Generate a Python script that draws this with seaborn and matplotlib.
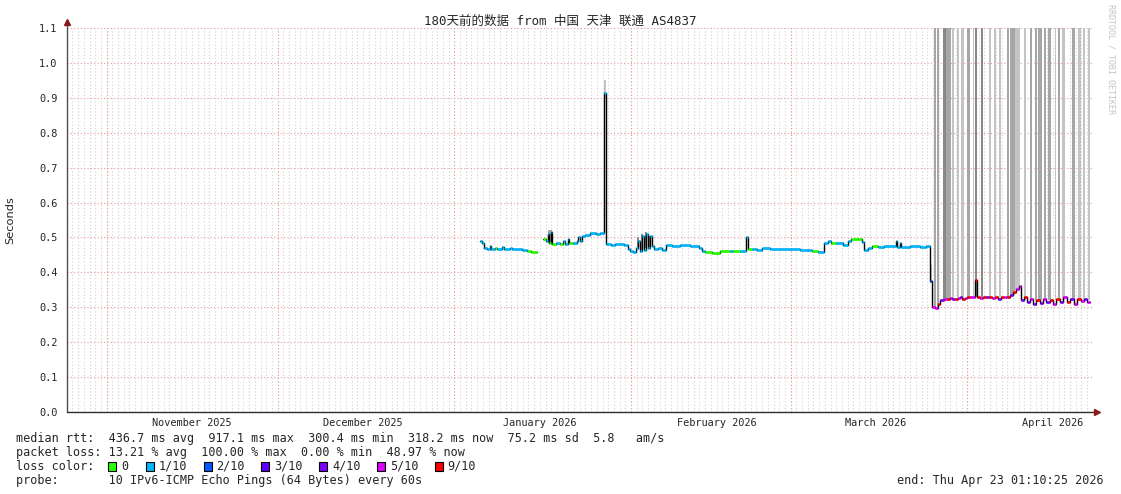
import numpy as np
import pandas as pd
import matplotlib
matplotlib.use('Agg')
import matplotlib.pyplot as plt
import matplotlib.dates as mdates
from matplotlib.patches import Rectangle
from matplotlib.ticker import MultipleLocator, FormatStrFormatter
import seaborn as sns

# graph window: 180 days up to the end time
end_time = pd.Timestamp('2026-04-23 01:10:25')
start_time = end_time - pd.Timedelta(days=180)

# median rtt: days after start_time, seconds, lost pings out of 10 (nan = no data after this)
day = [72.46, 72.81, 73.16, 73.68, 74.21, 74.39, 75.09, 75.44, 76.32, 76.67,
       77.72, 78.07, 79.12, 79.82, 80.70, 81.40, 82.46, 83.51, 84.04, 84.39,
       84.56, 84.91, 85.09, 85.79, 86.49, 87.02, 87.37, 87.89, 88.07, 88.77,
       89.47, 89.65, 90.00, 90.35, 90.88, 91.75, 92.81, 93.51, 94.21, 94.56,
       95.44, 96.14, 97.02, 97.72, 98.42, 98.77, 99.30, 99.82, 100.18, 100.53,
       100.88, 101.23, 101.58, 101.93, 102.28, 102.63, 102.98, 103.68, 104.39, 105.09,
       106.14, 107.54, 109.30, 110.88, 111.40, 111.93, 113.16, 114.56, 116.32, 116.84,
       118.07, 119.12, 119.47, 120.18, 121.05, 121.93, 123.33, 125.09, 126.84, 128.60,
       130.00, 130.70, 131.75, 132.81, 133.51, 134.04, 134.91, 136.14, 137.02, 137.54,
       138.77, 139.47, 139.82, 140.53, 141.23, 142.28, 143.33, 145.44, 145.61, 146.14,
       146.32, 147.89, 149.65, 150.70, 151.40, 151.75, 152.28, 152.81, 153.16, 153.86,
       154.38, 154.91, 155.35, 155.79, 156.23, 156.67, 157.10, 157.54, 157.98, 158.42,
       159.30, 159.65, 160.18, 160.70, 161.23, 161.75, 162.28, 162.81, 163.33, 163.86,
       164.39, 164.91, 165.44, 165.96, 166.49, 167.02, 167.37, 167.89, 168.42, 168.95,
       169.47, 170.00, 170.70, 171.23, 171.75, 172.46, 172.98, 173.51, 174.21, 174.74,
       175.44, 175.96, 176.67, 177.19, 177.89, 178.42, 178.95, 179.47]
median = [0.490, 0.485, 0.470, 0.468, 0.475, 0.467, 0.470, 0.467, 0.472, 0.466,
          0.470, 0.466, 0.468, 0.465, 0.460, 0.458, np.nan, 0.495, 0.490, 0.510,
          0.485, 0.515, 0.480, 0.485, 0.480, 0.490, 0.480, 0.495, 0.483, 0.485,
          0.490, 0.500, 0.490, 0.505, 0.508, 0.512, 0.510, 0.513, 0.915, 0.480,
          0.478, 0.480, 0.482, 0.478, 0.468, 0.462, 0.458, 0.470, 0.490, 0.462,
          0.505, 0.465, 0.510, 0.470, 0.505, 0.475, 0.468, 0.470, 0.465, 0.478,
          0.476, 0.478, 0.476, 0.470, 0.462, 0.458, 0.456, 0.460, 0.460, 0.460,
          0.462, 0.500, 0.466, 0.467, 0.465, 0.470, 0.467, 0.466, 0.468, 0.465,
          0.463, 0.460, 0.458, 0.483, 0.490, 0.483, 0.485, 0.478, 0.490, 0.495,
          0.495, 0.488, 0.465, 0.470, 0.475, 0.474, 0.476, 0.490, 0.474, 0.485,
          0.474, 0.476, 0.474, 0.476, 0.375, 0.300, 0.298, 0.310, 0.322, 0.325,
          0.323, 0.326, 0.324, 0.325, 0.327, 0.328, 0.325, 0.327, 0.328, 0.330,
          0.378, 0.328, 0.326, 0.330, 0.328, 0.330, 0.327, 0.330, 0.325, 0.330,
          0.328, 0.330, 0.335, 0.345, 0.352, 0.360, 0.320, 0.330, 0.315, 0.325,
          0.310, 0.322, 0.313, 0.325, 0.315, 0.322, 0.310, 0.325, 0.315, 0.328,
          0.315, 0.325, 0.310, 0.325, 0.318, 0.325, 0.315, np.nan]
loss = [1, 1, 1, 1, 1, 1, 0, 1, 1, 1,
        1, 1, 1, 1, 0, 0, 0, 0, 1, 1,
        0, 1, 0, 1, 0, 1, 1, 1, 0, 1,
        1, 1, 1, 1, 1, 1, 1, 1, 1, 1,
        1, 1, 1, 1, 1, 1, 1, 1, 1, 1,
        1, 1, 1, 1, 1, 1, 1, 1, 1, 1,
        1, 1, 1, 1, 1, 0, 0, 0, 1, 0,
        1, 1, 0, 1, 1, 1, 1, 1, 1, 1,
        1, 0, 1, 1, 1, 0, 1, 1, 1, 0,
        0, 1, 1, 1, 0, 1, 1, 1, 1, 1,
        1, 1, 1, 1, 2, 5, 5, 9, 4, 5,
        9, 5, 4, 9, 5, 4, 9, 5, 9, 5,
        9, 9, 5, 9, 4, 9, 5, 9, 4, 9,
        5, 9, 4, 9, 5, 5, 4, 9, 4, 5,
        4, 9, 4, 5, 4, 9, 5, 9, 4, 5,
        9, 4, 5, 9, 5, 4, 5, 5]

# smoke (spread of single pings): from day, to day, low s, high s (1.2 = off the top), density 1..3
smoke_from = [84.39, 94.21, 100.00, 100.70, 101.40, 102.11, 151.40,
              152.11, 152.63, 153.68, 154.21, 155.26, 156.14, 156.84, 157.89, 158.95, 159.30,
              160.35, 161.75, 162.63, 163.51, 164.91, 165.44, 166.32, 167.89, 168.95, 169.82,
              170.35, 171.40, 172.11, 173.33, 173.86, 174.56, 176.32, 177.37, 178.25, 179.12]
smoke_to = [85.09, 94.56, 100.35, 101.05, 101.75, 102.46, 151.75,
            152.46, 152.98, 154.21, 155.09, 155.61, 156.49, 157.37, 158.42, 159.12, 159.65,
            160.70, 162.11, 162.98, 163.86, 165.26, 166.32, 167.19, 168.25, 169.30, 170.18,
            171.05, 171.75, 172.63, 173.51, 174.21, 175.09, 176.84, 177.89, 178.60, 179.47]
smoke_lo = [0.485, 0.900, 0.465, 0.465, 0.470, 0.470, 0.370,
            0.300, 0.300, 0.320, 0.320, 0.320, 0.320, 0.325, 0.325, 0.330, 0.330,
            0.330, 0.330, 0.330, 0.330, 0.330, 0.335, 0.350, 0.320, 0.320, 0.320,
            0.320, 0.320, 0.320, 0.320, 0.320, 0.320, 0.320, 0.320, 0.320, 0.320]
smoke_hi = [0.520, 0.950, 0.500, 0.510, 0.515, 0.505, 0.420,
            1.2, 1.2, 1.2, 1.2, 1.2, 1.2, 1.2, 1.2, 1.2, 1.2,
            1.2, 1.2, 1.2, 1.2, 1.2, 1.2, 1.2, 1.2, 1.2, 1.2,
            1.2, 1.2, 1.2, 1.2, 1.2, 1.2, 1.2, 1.2, 1.2, 1.2]
smoke_density = [2, 1, 3, 3, 3, 3, 1,
                 2, 2, 3, 2, 1, 1, 1, 2, 1, 3,
                 3, 1, 1, 1, 2, 2, 1, 1, 2, 2,
                 2, 2, 2, 1, 2, 1, 2, 1, 1, 1]

loss_steps = [0, 1, 2, 3, 4, 5, 9]
loss_labels = ['0', '1/10', '2/10', '3/10', '4/10', '5/10', '9/10']
loss_colors = ['#26ff00', '#00b8ff', '#0059ff', '#5e00ff', '#7e00ff', '#dd00ff', '#ff0000']

title = '180天前的数据 from 中国 天津 联通 AS4837'
rtt_line = 'median rtt:  436.7 ms avg  917.1 ms max  300.4 ms min  318.2 ms now  75.2 ms sd  5.8   am/s'
loss_line = 'packet loss: 13.21 % avg  100.00 % max  0.00 % min  48.97 % now'
probe_line = 'probe:       10 IPv6-ICMP Echo Pings (64 Bytes) every 60s'
end_line = 'end: Thu Apr 23 01:10:25 2026'

sns.set_style('white')
plt.rcParams['font.family'] = ['DejaVu Sans Mono', 'Noto Sans CJK SC']
plt.rcParams['font.size'] = 8.5

W, H = 1121, 494
fig = plt.figure(figsize=(W / 100, H / 100), dpi=100)
ax = fig.add_axes([67 / W, 1 - 412 / H, 1026 / W, 384 / H])

t0 = mdates.date2num(start_time)
df = pd.DataFrame({'t': t0 + np.array(day), 'rtt': median, 'loss': loss})
df['seg'] = df['rtt'].isna().shift(fill_value=False).cumsum()
df['rtt_line'] = df['rtt'].ffill()

# smoke
grey = {1: '#c4c4c4', 2: '#a6a6a6', 3: '#888888'}
sf = np.array(smoke_from)
ax.bar(t0 + sf, np.array(smoke_hi) - np.array(smoke_lo), bottom=smoke_lo,
       width=np.array(smoke_to) - sf, align='edge',
       color=[grey[d] for d in smoke_density], linewidth=0, zorder=2)

# median line, black steps + loss coloured pieces
sns.lineplot(data=df, x='t', y='rtt_line', units='seg', estimator=None, sort=True,
             drawstyle='steps-post', color='black', lw=1, ax=ax, zorder=3, legend=False)
col = dict(zip(loss_steps, loss_colors))
t_next = df.groupby('seg')['t'].shift(-1)
ok = df['rtt'].notna() & t_next.notna()
ax.hlines(df.loc[ok, 'rtt'], df.loc[ok, 't'], t_next[ok],
          colors=[col[l] for l in df.loc[ok, 'loss']], lw=1.9, zorder=4)

ax.set_xlim(t0, t0 + 180)
ax.set_ylim(0, 1.1)
ax.set_xlabel('')
ax.set_ylabel('')

# grid
ax.set_axisbelow(True)
ax.grid(False)
ax.xaxis.set_major_locator(mdates.DayLocator(bymonthday=16))
ax.xaxis.set_major_formatter(mdates.DateFormatter('%B %Y'))
ax.xaxis.set_minor_locator(mdates.DayLocator())
ax.xaxis.remove_overlapping_locs = False
ax.grid(which='minor', axis='x', color='#d0d0d0', ls=(0, (1, 2)), lw=0.8)
for m in pd.date_range(start_time, end_time, freq='MS', normalize=True):
    ax.axvline(mdates.date2num(m), color='#eb9a9a', ls=(0, (1, 2)), lw=0.8, zorder=1)
ax.yaxis.set_major_locator(MultipleLocator(0.1))
ax.yaxis.set_major_formatter(FormatStrFormatter('%.1f'))
ax.grid(which='major', axis='y', color='#eb9a9a', ls=(0, (1, 2)), lw=0.8)
ax.tick_params(axis='x', which='both', length=0, pad=4, labelsize=7.4)
ax.tick_params(axis='y', which='major', length=4, pad=3, color='#eb9a9a', labelsize=7.4)

# axis lines with arrows
for s in ax.spines.values():
    s.set_visible(False)
ax.plot([0, 0], [0, 1 + 6 / 384], transform=ax.transAxes, color='#505050', lw=1, clip_on=False)
ax.plot([0, 1 + 2 / 1026], [0, 0], transform=ax.transAxes, color='#303030', lw=1, clip_on=False)
ax.plot([0], [1 + 6 / 384], transform=ax.transAxes, marker='^', ms=4, color='#8b1a1a', clip_on=False)
ax.plot([1 + 4 / 1026], [0], transform=ax.transAxes, marker='>', ms=4, color='#8b1a1a', clip_on=False)

fig.text(560 / W, 1 - 21 / H, title, ha='center', va='center', fontsize=9)
fig.text(10 / W, 1 - 220 / H, 'Seconds', rotation=90, ha='center', va='center',
         family='DejaVu Sans', fontsize=8.2)
fig.text(1111 / W, 1 - 4 / H, 'RRDTOOL / TOBI OETIKER', rotation=270, ha='center', va='top',
         color='#c4c4c4', fontsize=6)

fig.text(16 / W, 1 - 438 / H, rtt_line, va='center')
fig.text(16 / W, 1 - 452 / H, loss_line, va='center')
fig.text(16 / W, 1 - 466 / H, 'loss color:', va='center')
fig.text(16 / W, 1 - 480 / H, probe_line, va='center')
fig.text(1104 / W, 1 - 480 / H, end_line, ha='right', va='center')

x = 108
for lab, c in zip(loss_labels, loss_colors):
    fig.add_artist(Rectangle((x / W, 1 - 471 / H), 8 / W, 9 / H, transform=fig.transFigure,
                             facecolor=c, edgecolor='black', lw=0.8))
    fig.text((x + 13) / W, 1 - 466 / H, lab, va='center')
    x += 31 + 6.7 * len(lab)

fig.savefig('out.png', dpi=100)
